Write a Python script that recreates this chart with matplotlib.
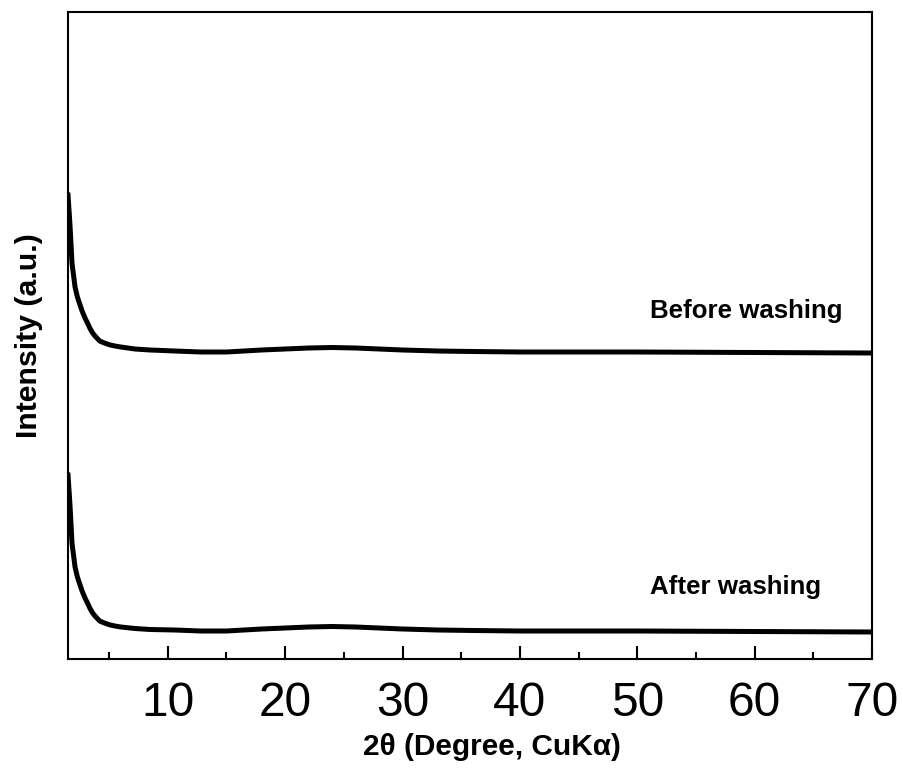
import matplotlib
matplotlib.use("Agg")
import matplotlib.pyplot as plt
from matplotlib.ticker import MultipleLocator

# 2theta (degree) sample positions
two_theta = [1.5, 1.67, 1.84, 2.1, 2.3, 2.5, 2.7, 2.95, 3.2, 3.4, 3.6, 3.8, 4.2,
             4.6, 5.1, 5.5, 6.0, 7.2, 8.5, 10.6, 12.8, 15, 18, 20, 22, 24, 26,
             28, 30, 33, 36, 40, 50, 60, 70]

# Intensity (arbitrary units, offset stacked)
before_washing = [464, 434, 396, 372, 362, 355, 348, 341, 335, 330, 326, 323, 318,
                  316, 314, 313, 312, 310, 309, 308, 307, 307, 309, 310, 311,
                  311.5, 311, 310, 309, 308, 307.5, 307, 307, 306.5, 306]
after_washing = [184, 154, 116, 92, 82, 75, 68, 61, 55, 50, 46, 43, 38,
                 36, 34, 33, 32, 30.5, 29.5, 29, 28, 28, 30, 31, 32,
                 32.5, 32, 31, 30, 29, 28.5, 28, 28, 27.5, 27]

series_labels = ["Before washing", "After washing"]
label_pos = [(51.1, 348), (51.1, 72)]

x_ticks = [10, 20, 30, 40, 50, 60, 70]

plt.rcParams['font.family'] = ['Liberation Sans', 'DejaVu Sans']

fig = plt.figure(figsize=(9.04, 7.72), dpi=100)
ax = fig.add_axes([68/904, 113/772, (872-68)/904, (659-12)/772])

for ys in (before_washing, after_washing):
    ax.plot(two_theta, ys, color='black', lw=3.6, solid_joinstyle='round')

for lab, (tx, ty) in zip(series_labels, label_pos):
    ax.text(tx, ty, lab, ha='left', va='center', fontsize=18.6, fontweight='bold')

ax.set_xlim(1.5, 70)
ax.set_ylim(0, 647)
ax.set_xticks(x_ticks)
ax.xaxis.set_minor_locator(MultipleLocator(5))
ax.set_yticks([])
ax.tick_params(axis='x', which='major', direction='in', length=9.5, width=1.5, pad=16,
               top=False)
ax.tick_params(axis='x', which='minor', direction='in', length=5, width=1.5, top=False)
for lbl in ax.get_xticklabels():
    lbl.set_fontsize(34.5)
for s in ax.spines.values():
    s.set_linewidth(1.5)

ax.set_xlabel('2θ (Degree, CuKα)', fontsize=21.5, fontweight='bold', labelpad=5,
              x=(492-68)/804)
ax.set_ylabel('Intensity (a.u.)', fontsize=21.8, fontweight='bold', labelpad=18)

fig.savefig('out.png', dpi=100)
